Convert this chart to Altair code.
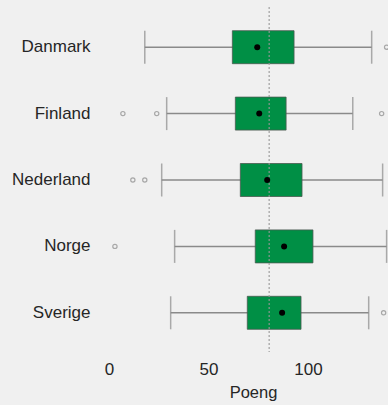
import altair as alt
import pandas as pd

# Score distributions per country
countries = ["Danmark", "Finland", "Nederland", "Norge", "Sverige"]
whisker_lo = [18, 29, 26.5, 33, 31]
q1 = [62, 63.5, 66, 73.5, 69.5]
q3 = [93, 89, 97, 102.5, 96.5]
whisker_hi = [132, 122.5, 137.5, 139.5, 130.5]
means = [74.5, 75.5, 79.5, 88, 87]
outlier_country = ["Danmark", "Finland", "Finland", "Finland", "Nederland", "Nederland", "Norge", "Sverige"]
outlier_value = [139.5, 7, 24, 137, 12, 18, 3, 138]
overall_mean = 80.5

stats = pd.DataFrame({
    "land": countries, "lo": whisker_lo, "q1": q1, "q3": q3, "hi": whisker_hi, "mean": means,
})
outliers = pd.DataFrame({"land": outlier_country, "poeng": outlier_value})

x_scale = alt.Scale(domain=[-4.5, 140.2], nice=False, zero=False)
y_scale = alt.Scale(domain=countries, paddingInner=0, paddingOuter=0)

FONT = "Liberation Sans"
y_enc = alt.Y("land:N", scale=y_scale, sort=countries, title=None,
              axis=alt.Axis(domain=False, ticks=False, labelPadding=10, labelFontSize=17,
                            labelColor="#262626", labelFont=FONT))
x_axis = alt.Axis(values=[0, 50, 100], domain=False, ticks=False, grid=False,
                  labelFontSize=17, labelColor="#262626", labelPadding=15,
                  labelFont=FONT, title="Poeng", titleFontSize=16.5,
                  titleFontWeight="normal", titleColor="#262626", titlePadding=7,
                  titleFont=FONT, titleX=153, titleAlign="center")

base = alt.Chart(stats)

whiskers = base.mark_rule(color="#8a8a8a", strokeWidth=1.5).encode(
    x=alt.X("lo:Q", scale=x_scale, axis=x_axis), x2="hi:Q", y=y_enc)

caps_lo = base.mark_tick(color="#8a8a8a", thickness=1.5, size=33).encode(
    x=alt.X("lo:Q", scale=x_scale), y=alt.Y("land:N", scale=y_scale, sort=countries))
caps_hi = base.mark_tick(color="#8a8a8a", thickness=1.5, size=33).encode(
    x=alt.X("hi:Q", scale=x_scale), y=alt.Y("land:N", scale=y_scale, sort=countries))

boxes = base.mark_bar(size=33, color="#008f45", stroke="#4a5a50", strokeWidth=0.8).encode(
    x=alt.X("q1:Q", scale=x_scale), x2="q3:Q", y=alt.Y("land:N", scale=y_scale, sort=countries))

ref = alt.Chart(pd.DataFrame({"v": [overall_mean]})).mark_rule(
    color="#999999", strokeWidth=1.3, strokeDash=[2, 2], opacity=0.85).encode(
    x=alt.X("v:Q", scale=x_scale), y=alt.value(-7), y2=alt.value(338))

dots = base.mark_point(filled=True, color="black", size=36, opacity=1).encode(
    x=alt.X("mean:Q", scale=x_scale), y=alt.Y("land:N", scale=y_scale, sort=countries))

outs = alt.Chart(outliers).mark_point(shape="circle", filled=False, color="#8a8a8a",
                                      size=18, strokeWidth=1.2).encode(
    x=alt.X("poeng:Q", scale=x_scale), y=alt.Y("land:N", scale=y_scale, sort=countries))

chart = alt.layer(whiskers, caps_lo, caps_hi, boxes, ref, dots, outs).properties(
    width=288, height=332,
    autosize=alt.AutoSizeParams(type="none"),
    padding={"left": 100, "top": 14, "right": 0, "bottom": 59},
    background="#f0f0f0",
).configure_view(stroke=None, clip=False)

chart.save("out.html", embed_options={"renderer": "svg", "actions": False})
